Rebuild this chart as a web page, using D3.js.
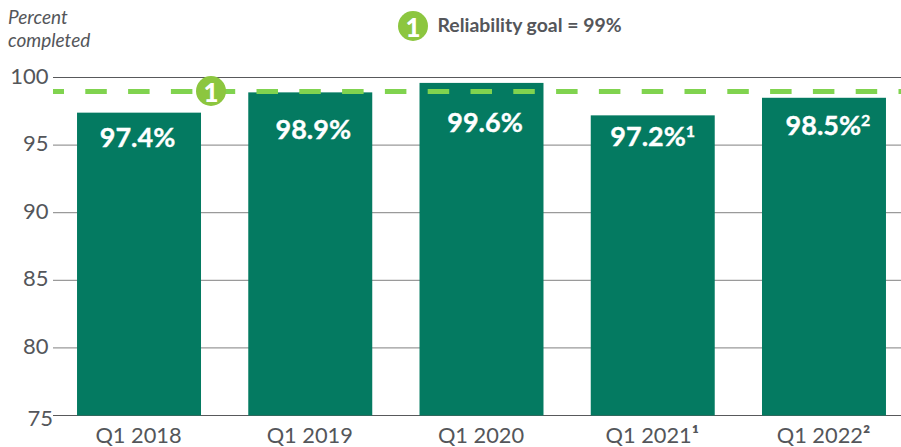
<!DOCTYPE html>
<html><head><meta charset="utf-8">
<script src="https://cdn.jsdelivr.net/npm/d3@7/dist/d3.min.js"></script>
<style>html,body{margin:0;padding:0;background:#fff}svg{display:block}text{font-family:Lato,sans-serif}</style>
</head><body><svg id="c" width="901" height="447"></svg>
<script>
const categories = ["Q1 2018","Q1 2019","Q1 2020","Q1 2021","Q1 2022"];
const categoryNotes = ["","","","¹","²"];
const values = [97.4,98.9,99.6,97.2,98.5];
const barLabels = ["97.4%","98.9%","99.6%","97.2%","98.5%"];
const labelNotes = ["","","","1","2"];
const yTicks = [75,80,85,90,95,100];
const goal = 99;
const yTitle = ["Percent","completed"];
const legendText = "Reliability goal = 99%";

const svg = d3.select("#c");
const textCol = "#54565a", bar = "#047a61", dash = "#80d34f", badge = "#8cc63f";
const y = d3.scaleLinear().domain([75,100]).range([415.5,77.5]);
const x = d3.scaleBand().domain(categories).range([53.4,909.6]).paddingInner(0.276).paddingOuter(0.138);
const labelDrop = [34,47,49.5,31,37];
const labelShift = [-1.5,3,3.5,0,4];

const grid = svg.append("g");
grid.selectAll("line").data(yTicks).join("line")
  .attr("x1",53).attr("x2",901)
  .attr("y1",d=>y(d)).attr("y2",d=>y(d))
  .attr("stroke",d=>(d===100||d===75)?"#58595b":"#9a9a9a").attr("stroke-width",1.2);

svg.append("g").selectAll("text").data(yTicks).join("text")
  .attr("x",d=>d===75?53:48.5).attr("y",d=>y(d)+(d===75?10:6))
  .attr("text-anchor","end").attr("font-size",22).attr("fill",textCol).text(d=>d);

svg.append("g").selectAll("rect").data(values).join("rect")
  .attr("x",(d,i)=>x(categories[i])).attr("width",x.bandwidth())
  .attr("y",d=>y(d)).attr("height",d=>y(75)-y(d)).attr("fill",bar);

svg.append("line").attr("x1",53).attr("x2",901)
  .attr("y1",y(goal)+.5).attr("y2",y(goal)+.5)
  .attr("stroke",dash).attr("stroke-width",5)
  .attr("stroke-dasharray","21.5 21.3").attr("stroke-dashoffset",10.5);

const lab = svg.append("g").selectAll("text").data(values).join("text")
  .attr("x",(d,i)=>x(categories[i])+x.bandwidth()/2+labelShift[i])
  .attr("y",(d,i)=>y(d)+labelDrop[i]).attr("text-anchor","middle")
  .attr("font-size",27).attr("font-weight",700).attr("fill","#fff")
  .attr("stroke","#fff").attr("stroke-width",0.35);
lab.append("tspan").text((d,i)=>barLabels[i]);
lab.append("tspan").attr("font-size",16).attr("dy",-9).text((d,i)=>labelNotes[i]);

const xl = svg.append("g").selectAll("text").data(categories).join("text")
  .attr("x",d=>x(d)+x.bandwidth()/2-.5).attr("y",443)
  .attr("text-anchor","middle").attr("font-size",21.8).attr("fill",textCol);
xl.append("tspan").text(d=>d);
xl.append("tspan").attr("font-weight",700).text((d,i)=>categoryNotes[i]);

svg.append("g").selectAll("text").data(yTitle).join("text")
  .attr("x",8).attr("y",(d,i)=>24+i*23)
  .attr("font-size",19).attr("font-style","italic").attr("fill",textCol).text(d=>d);

function numBadge(cx,cy){
  svg.append("circle").attr("cx",cx).attr("cy",cy).attr("r",15).attr("fill",badge);
  svg.append("text").attr("x",cx).attr("y",cy+10.5).attr("text-anchor","middle")
    .attr("font-size",26).attr("font-weight",900).attr("fill","#fff").text("1");
}
numBadge(211,91);
numBadge(413,26);
svg.append("text").attr("x",437.5).attr("y",32).attr("font-size",19.4).attr("font-weight",700).attr("fill",textCol).text(legendText);
</script></body></html>
